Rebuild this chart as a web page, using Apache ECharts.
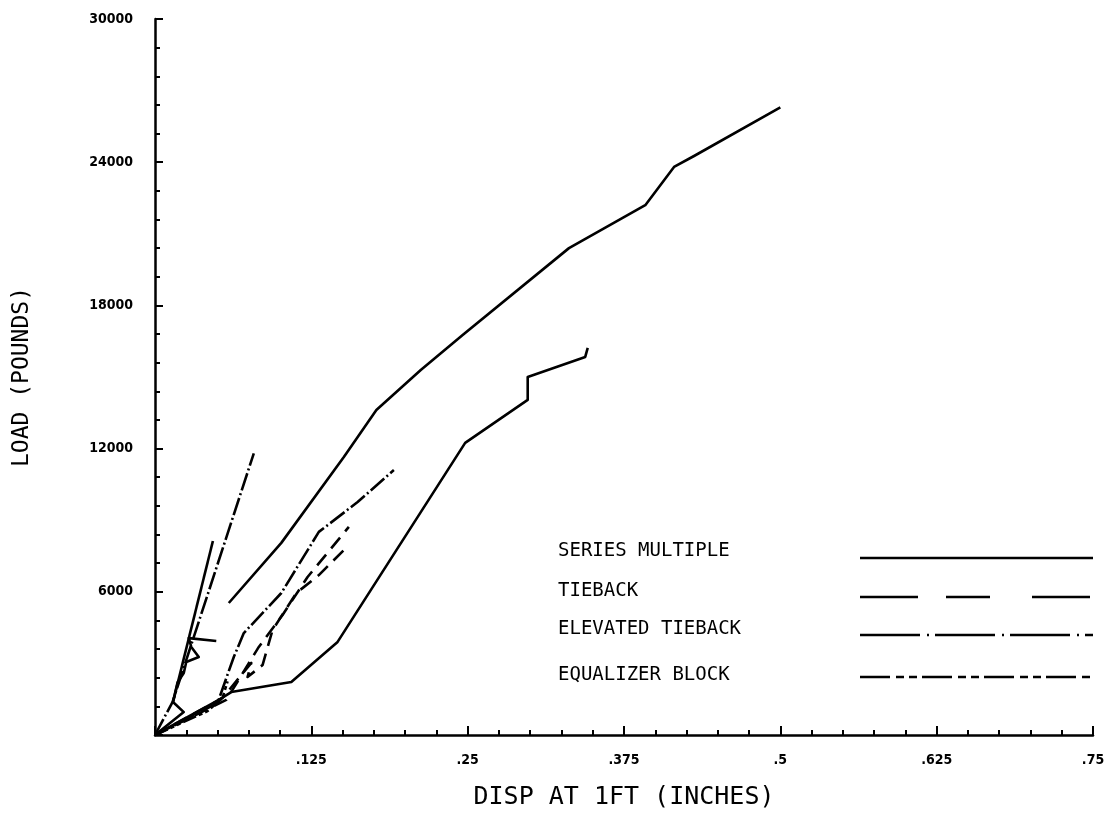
<!DOCTYPE html>
<html>
<head>
<meta charset="utf-8">
<script src="https://cdn.jsdelivr.net/npm/echarts@6/dist/echarts.min.js"></script>
<style>
html,body{margin:0;padding:0;background:#fff;}
#chart{width:1118px;height:813px;}
</style>
</head>
<body>
<div id="chart"></div>
<script>
// ---- data (x = displacement in inches, y = load in pounds) ----
const xTicks = [0.125, 0.25, 0.375, 0.5, 0.625, 0.75];
const xTickLabels = ['.125', '.25', '.375', '.5', '.625', '.75'];
const yTickLabels = ['6000', '12000', '18000', '24000', '30000'];

// SERIES MULTIPLE (solid)
const smUpper = [[0.059,5530],[0.101,8050],[0.151,11650],[0.177,13620],[0.2125,15290],[0.246,16760],[0.331,20400],[0.392,22200],[0.415,23800],[0.431,24260],[0.5,26300]];
const smLower = [[0,0],[0.051,1470],[0.061,1800],[0.109,2220],[0.146,3900],[0.248,12240],[0.298,14040],[0.298,15000],[0.344,15840],[0.346,16220]];
const smZigzag = [[0,0],[0.023,960],[0.0144,1380],[0.018,2200],[0.023,2600],[0.025,3060],[0.035,3270],[0.029,3690],[0.027,4060],[0.049,3940]];
const smSteep = [[0.0144,1380],[0.0463,8130]];

// TIEBACK (dashed)
const tbA = [[0,0],[0.054,1550],[0.077,3020],[0.074,2430],[0.086,2930],[0.094,4400],[0.113,5950],[0.131,6700],[0.151,7750]];
const tbB = [[0,0],[0.057,1470],[0.083,3690],[0.102,5030],[0.122,6620],[0.155,8720]];

// ELEVATED TIEBACK (long dash - dot)
const etA = [[0,0],[0.014,1380],[0.079,11800]];
const etB = [[0,0],[0.050,1340],[0.063,3270],[0.071,4270],[0.101,5950],[0.131,8510],[0.162,9760],[0.191,11100]];

// EQUALIZER BLOCK (dash - dot - dot)
const eqA = [[0,0],[0.042,1000],[0.054,1550],[0.058,2250]];

const legendNames = ['SERIES MULTIPLE', 'TIEBACK', 'ELEVATED TIEBACK', 'EQUALIZER BLOCK'];

// ---- styles ----
const INK = '#000';
const LW = 2.6;
const TICK_FONT = '"DejaVu Sans Condensed", "DejaVu Sans", sans-serif';
const dashPlot = {
  'SERIES MULTIPLE': 'solid',
  'TIEBACK': [14, 8],
  'ELEVATED TIEBACK': [18, 3, 2, 3],
  'EQUALIZER BLOCK': [14, 3, 4, 3, 4, 3]
};
const dashLegend = {
  'SERIES MULTIPLE': null,
  'TIEBACK': [58, 28, 44, 42],
  'ELEVATED TIEBACK': [60, 7, 2, 6],
  'EQUALIZER BLOCK': [30, 6, 8, 5, 8, 5]
};

function mkSeries(name, data) {
  return {
    type: 'line', name: name, data: data, symbol: 'none', silent: true,
    animation: false,
    lineStyle: { color: INK, width: LW, type: dashPlot[name], cap: 'butt', join: 'round' }
  };
}

const series = [
  mkSeries('SERIES MULTIPLE', smUpper),
  mkSeries('SERIES MULTIPLE', smLower),
  mkSeries('SERIES MULTIPLE', smZigzag),
  mkSeries('SERIES MULTIPLE', smSteep),
  mkSeries('TIEBACK', tbA),
  mkSeries('TIEBACK', tbB),
  mkSeries('ELEVATED TIEBACK', etA),
  mkSeries('ELEVATED TIEBACK', etB),
  mkSeries('EQUALIZER BLOCK', eqA)
];

// legend drawn as graphic rows
const legendTextY = [551, 591, 629, 675];
const legendLineY = [558, 597, 635, 677];
const graphic = [];
legendNames.forEach(function (n, i) {
  graphic.push({
    type: 'text', x: 558, y: legendTextY[i],
    style: { text: n, fill: INK, font: '19px "DejaVu Sans Mono"', verticalAlign: 'middle', align: 'left' }
  });
  const st = { stroke: INK, lineWidth: LW };
  if (dashLegend[n]) st.lineDash = dashLegend[n];
  graphic.push({
    type: 'line', shape: { x1: 860, y1: legendLineY[i], x2: 1093, y2: legendLineY[i] },
    style: st
  });
});

const chart = echarts.init(document.getElementById('chart'), null, { renderer: 'canvas' });
chart.setOption({
  backgroundColor: '#fff',
  animation: false,
  grid: { left: 155, right: 25, top: 19, bottom: 78, containLabel: false, outerBoundsMode: 'none' },
  xAxis: {
    type: 'value', min: 0, max: 0.75, interval: 0.125,
    name: 'DISP AT 1FT (INCHES)', nameLocation: 'middle', nameGap: 50,
    nameTextStyle: { color: INK, fontFamily: 'DejaVu Sans Mono', fontSize: 25 },
    axisLine: { show: true, lineStyle: { color: INK, width: 2.5 } },
    axisTick: { show: true, inside: true, length: 9, lineStyle: { color: INK, width: 2 } },
    minorTick: { show: true, splitNumber: 5, length: 5, lineStyle: { color: INK, width: 2 } },
    splitLine: { show: false },
    axisLabel: {
      margin: 18, color: INK, fontFamily: TICK_FONT, fontWeight: 'bold', fontSize: 14,
      formatter: function (v) {
        const idx = xTicks.findIndex(function (t) { return Math.abs(t - v) < 1e-9; });
        return idx >= 0 ? xTickLabels[idx] : '';
      }
    }
  },
  yAxis: {
    type: 'value', min: 0, max: 30000, interval: 6000,
    name: 'LOAD (POUNDS)', nameLocation: 'middle', nameGap: 121, nameRotate: 90,
    nameTextStyle: { color: INK, fontFamily: 'DejaVu Sans Mono', fontSize: 23 },
    axisLine: { show: true, lineStyle: { color: INK, width: 2.5 } },
    axisTick: { show: true, inside: true, length: 8, lineStyle: { color: INK, width: 2 } },
    minorTick: { show: true, splitNumber: 5, length: 5, lineStyle: { color: INK, width: 2 } },
    splitLine: { show: false },
    axisLabel: {
      margin: 22, color: INK, fontFamily: TICK_FONT, fontWeight: 'bold', fontSize: 14,
      formatter: function (v) {
        const s = String(v);
        return yTickLabels.indexOf(s) >= 0 ? s : '';
      }
    }
  },
  series: series,
  graphic: graphic
});
</script>
</body>
</html>
